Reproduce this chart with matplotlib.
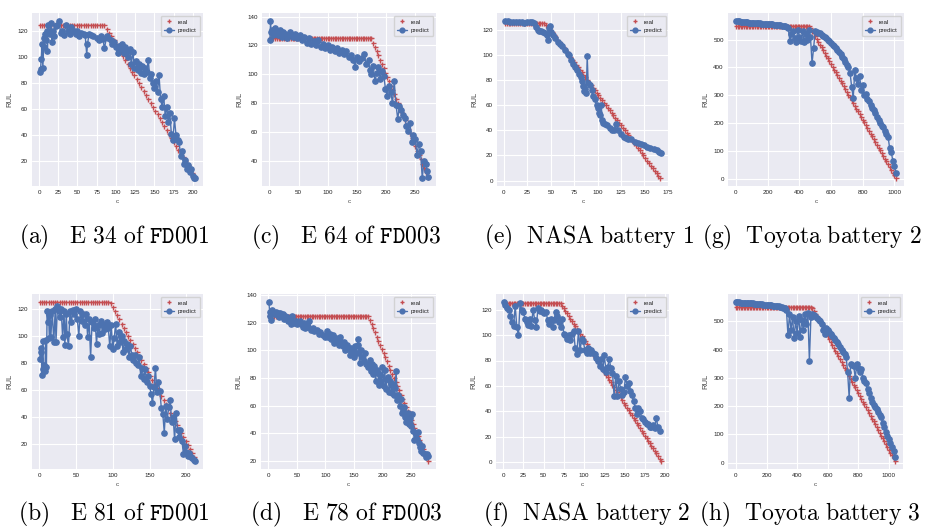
import matplotlib
matplotlib.use('Agg')
import matplotlib.pyplot as plt
from matplotlib.ticker import MultipleLocator

plt.style.use('seaborn-v0_8-darkgrid')
plt.rcParams['font.family'] = ['Liberation Sans', 'DejaVu Sans']
plt.rcParams['mathtext.fontset'] = 'cm'

# ---------------- (a) E 34 of FD001 ----------------
a_cycles = [1, 2, 3, 4, 5, 6, 7, 8, 9, 10, 11, 12, 14, 16, 17, 18, 20, 22, 24, 26, 28, 30, 32,
            35, 38, 40, 42, 45, 48, 50, 52, 55, 58, 60, 62, 63, 65, 68, 70, 75, 78, 80, 83, 85, 88,
            90, 93, 95, 98, 100] + list(range(102, 203, 2)) + [203]
a_pred = [89, 91, 99, 110, 92, 108, 115, 118, 113, 120, 105, 125, 118, 126, 112, 120, 116, 124,
          125, 128, 119, 120, 117, 125, 120, 118, 123, 120, 118, 120, 116, 119, 118, 117, 102, 110,
          118, 117, 116, 115, 113, 116, 114, 107, 116, 115, 113, 110, 112, 108,
          103, 109, 106, 110, 103, 108, 105, 100, 106, 95, 104, 92, 97, 90, 95, 88, 93, 87, 92, 89,
          98, 84, 87, 80, 76, 82, 73, 86, 68, 62, 70, 55, 62, 50, 57, 41, 36, 53, 40, 36,
          35, 24, 28, 18, 21, 14, 17, 12, 14, 9, 7, 7]
a_real_cycles = list(range(1, 204, 3))
a_real = [125] * 29 + [122, 119, 116, 113, 110, 107, 104, 101, 98, 95, 92, 89, 86, 83, 80, 77, 74,
                       71, 68, 65, 62, 59, 56, 53, 50, 47, 44, 41, 38, 35, 32, 29, 26, 23, 20, 17,
                       14, 11, 8]

# ---------------- (c) E 64 of FD003 ----------------
c_cycles = [1, 2, 3, 5, 7, 9, 11, 13, 15, 18, 21, 24, 27, 30, 33, 36] + list(range(40, 137, 4)) + \
           [140, 144, 147, 150, 154, 158, 162, 166, 170, 172] + list(range(175, 269, 3)) + [270, 272]
c_pred = [124, 137, 129, 131, 127, 132, 128, 130, 127, 131, 126, 129, 128, 125, 127, 129,
          126, 128, 125, 127, 124, 126, 122, 125, 121, 123, 120, 124, 119, 121, 118, 120, 117, 119,
          116, 118, 115, 117, 114, 116, 112,
          113, 110, 105, 112, 109, 111, 114, 107, 110, 103,
          100, 106, 95, 101, 105, 97, 102, 99, 90, 85, 92, 88, 80, 95, 79, 69, 78, 75, 72, 70, 64,
          61, 66, 53, 58, 55, 44, 52, 47, 28, 40, 38, 33, 29]
c_real_cycles = list(range(1, 273, 3))
c_real = [125] * 59 + [122, 119, 116, 113, 110, 107, 104, 101, 98, 95, 92, 89, 86, 83, 80, 77, 74,
                       71, 68, 65, 62, 59, 56, 53, 50, 47, 44, 41, 38, 35, 32, 29]

# ---------------- (e) NASA battery 1 ----------------
e_cycles = [1, 4, 7, 10, 13, 16, 19, 22, 25, 28, 30, 32, 34, 36, 38, 40, 42, 44, 46, 47, 48, 49, 50,
            52, 55, 58, 60, 62, 65, 68, 70, 72, 74, 76, 78, 80, 82, 83, 85, 86, 87, 88, 89, 90,
            92, 94, 95, 97, 99, 100, 102, 103, 104, 105, 106, 108, 110,
            113, 116, 118, 120, 122, 125, 128, 130, 133, 136, 140, 143, 146, 150, 153, 156, 160,
            163, 166, 168]
e_pred = [127, 127, 126, 126, 126, 126, 126, 125, 126, 126, 126, 125, 122, 120, 119, 119, 118, 117,
          116, 112, 121, 123, 118,
          116, 113, 110, 109, 107, 104, 101, 100, 96, 93, 90, 88, 85, 82, 79, 75, 71, 73, 70, 99, 78,
          76, 72, 67, 65, 60, 58, 54, 52, 60, 48, 46, 45, 44,
          42, 40, 40, 45, 40, 37, 35, 34, 33, 33, 31, 30, 29, 28, 27, 26, 25, 24, 23, 22]
e_real_cycles = list(range(1, 169, 2))
e_real = [125] * 22 + [124, 122, 120, 118, 116, 114, 112, 110, 108, 106, 104, 102, 100, 98, 96, 94,
                       92, 90, 88, 86, 84, 82, 80, 78, 76, 74, 72, 70, 68, 66, 64, 62, 60, 58, 56,
                       54, 52, 50, 48, 46, 44, 42, 40, 38, 36, 34, 32, 30, 28, 26, 24, 22, 20, 18,
                       16, 14, 12, 10, 8, 6, 4, 2]

# ---------------- (g) Toyota battery 2 ----------------
g_cycles = list(range(0, 1020, 10))
g_pred = [567, 566, 565, 564, 563, 563, 562, 562, 561, 561, 560, 560, 559, 559, 558, 558, 557, 557,
          556, 556, 555, 555, 554, 554, 553, 553, 552, 552, 551, 550, 549, 548, 546,
          540, 495, 520, 530, 505, 490, 535, 510, 495, 530, 490, 520, 500, 535, 510, 415, 470,
          530, 528, 525, 522, 518, 514, 510, 505, 500, 495, 488, 482, 476, 470, 462, 455, 447, 438,
          430, 420, 410, 400,
          380, 330, 290, 390, 360, 340, 370, 320, 335, 300, 305, 285, 280, 265, 255, 245, 235, 220,
          210, 200, 190, 185, 170, 160, 150, 110, 95, 65, 45, 20]
g_real_cycles = list(range(0, 1020, 10))
g_real = [550] * 47 + [542, 532, 522, 512, 502, 492, 482, 472, 462, 452, 442, 432, 422, 412, 402,
                       392, 382, 372, 362, 352, 342, 332, 322, 312, 302, 292, 282, 272, 262, 252,
                       242, 232, 222, 212, 202, 192, 182, 172, 162, 152, 142, 132, 122, 112, 102,
                       92, 82, 72, 62, 52, 42, 32, 22, 12, 2]

# ---------------- (b) E 81 of FD001 ----------------
b_cycles = [1, 2, 3, 4, 5, 6, 7, 8, 9, 10, 11, 12, 13, 14, 15, 16, 18, 20, 22, 23, 25, 27, 28, 30,
            32, 34, 35, 37, 38, 40] + list(range(42, 213, 2))
b_pred = [83, 91, 88, 71, 96, 75, 78, 74, 97, 77, 118, 110, 116, 98, 115, 99,
          118, 95, 120, 95, 122, 118, 114, 120, 99, 118, 93, 116, 101, 92,
          118, 110, 119, 116, 120, 112, 100, 118, 111, 116,
          108, 116, 99, 112, 84, 110, 106, 112, 94, 108,
          101, 111, 102, 108, 105, 110, 106, 92, 108, 90,
          98, 109, 92, 103, 95, 100, 88, 96, 90, 94,
          84, 92, 86, 82, 86, 80, 78, 84, 70, 76,
          68, 75, 66, 70, 63, 57, 50, 62, 76, 58,
          66, 59, 46, 42, 28, 48, 38, 47, 52, 36,
          40, 23, 43, 30, 25, 30, 22, 12, 18, 14,
          11, 13, 10, 9, 8, 7]
b_real_cycles = list(range(1, 214, 3))
b_real = [125] * 32 + [124, 121, 118, 115, 112, 109, 106, 103, 100, 97, 94, 91, 88, 85, 82, 79, 76,
                       73, 70, 67, 64, 61, 58, 55, 52, 49, 46, 43, 40, 37, 34, 31, 28, 25, 22, 19,
                       16, 13, 10]

# ---------------- (d) E 78 of FD003 ----------------
d_cycles = [1, 2, 3] + list(range(5, 36, 2)) + [38, 40, 42, 45, 48, 50, 55, 58, 60, 63, 65, 68, 70,
                                                72, 75, 78, 80, 85, 88, 90, 95, 100, 103, 105, 108,
                                                110, 113, 115, 118, 120, 123, 125, 128, 130, 133,
                                                135, 138, 140, 143, 145, 148, 150, 152, 155, 157,
                                                158, 160, 162, 165, 168, 170, 172, 175, 178, 180] + \
           list(range(182, 281, 2))
d_pred = [135, 128, 125, 122, 129, 127, 126, 128, 126, 127, 124, 127, 125, 126, 123, 125, 124, 124,
          121, 123, 119, 125, 120, 121, 119, 121, 119, 117, 120, 116, 118, 117, 121, 115, 116, 114,
          115, 112, 113, 111, 110, 114, 110, 112, 108, 111, 105, 109, 107, 104, 110, 106, 103, 106,
          100, 104, 101, 97, 102, 99, 95, 103, 98, 108, 104, 91, 100, 95, 92, 98, 90, 88, 93, 85,
          90, 83, 89, 78, 86, 84, 75, 82, 78, 88, 74, 86, 72, 79, 81, 70, 78, 69, 76, 68, 73, 85,
          64, 68, 60, 65, 55, 57, 59, 52, 48, 55, 47, 51, 45, 54, 42, 35, 40, 36, 41, 33, 30, 27,
          31, 26, 25, 23, 25, 24]
d_real_cycles = list(range(1, 281, 3))
d_real = [125] * 59 + [122, 119, 116, 113, 110, 107, 104, 101, 98, 95, 92, 89, 86, 83, 80, 77, 74,
                       71, 68, 65, 62, 59, 56, 53, 50, 47, 44, 41, 38, 35, 32, 29, 26, 23, 20]

# ---------------- (f) NASA battery 2 ----------------
f_cycles = list(range(1, 194, 2))
f_pred = [126, 124, 121, 120, 115, 110, 107, 123, 106, 100,
          125, 120, 118, 113, 110, 108, 113, 107, 120, 112,
          106, 121, 119, 120, 118, 117, 118, 112, 109, 113,
          106, 112, 118, 115, 110, 106, 113, 101, 100, 97,
          100, 96, 101, 103, 90, 85, 103, 88, 97, 95,
          88, 86, 90, 86, 88, 86, 85, 82, 80, 76,
          81, 73, 84, 71, 75, 81, 74, 70, 52, 68,
          52, 64, 58, 53, 55, 67, 60, 62, 56, 53,
          48, 43, 38, 43, 40, 35, 34, 32, 30, 30,
          28, 28, 29, 27, 35, 28, 25]
f_real_cycles = list(range(1, 196, 2))
f_real = [125] * 36 + [123, 121, 119, 117, 115, 113, 111, 109, 107, 105, 103, 101, 99, 97, 95, 93,
                       91, 89, 87, 85, 83, 81, 79, 77, 75, 73, 71, 69, 67, 65, 63, 61, 59, 57, 55,
                       53, 51, 49, 47, 45, 43, 41, 39, 37, 35, 33, 31, 29, 27, 25, 23, 21, 19, 17,
                       15, 13, 11, 9, 7, 5, 3, 1]

# ---------------- (h) Toyota battery 3 ----------------
h_cycles = list(range(0, 1050, 10))
h_pred = [568, 567, 567, 566, 566, 565, 565, 565, 564, 564, 563, 563, 562, 562, 561, 561, 560, 560,
          559, 559, 558, 557, 557, 556, 555, 555, 554, 553, 552, 551, 550, 548, 546,
          540, 450, 525, 470, 515, 440, 500, 460, 520, 445, 505, 470, 525, 490, 530, 360, 515,
          525, 522, 518, 512, 505, 500, 490, 470, 455, 475, 468, 462, 455, 448, 440, 435, 428, 420,
          410, 400, 390, 385, 375,
          320, 230, 350, 345, 340, 300, 350, 335, 320, 330, 300, 290, 280, 260, 245, 230, 215, 205,
          198, 190, 180, 170, 160, 140, 125, 110, 95, 85, 70, 55, 40, 20]
h_real_cycles = list(range(0, 1050, 10))
h_real = [550] * 50 + [546, 536, 526, 516, 506, 496, 486, 476, 466, 456, 446, 436, 426, 416, 406,
                       396, 386, 376, 366, 356, 346, 336, 326, 316, 306, 296, 286, 276, 266, 256,
                       246, 236, 226, 216, 206, 196, 186, 176, 166, 156, 146, 136, 126, 116, 106,
                       96, 86, 76, 66, 56, 46, 36, 26, 16, 6]

captions = {
    'a': r'$\mathrm{(a)\ \ \ E\ 34\ of\ }\mathtt{FD001}$',
    'c': r'$\mathrm{(c)\ \ \ E\ 64\ of\ }\mathtt{FD003}$',
    'e': r'$\mathrm{(e)\ \ NASA\ battery\ 1}$',
    'g': r'$\mathrm{(g)\ \ Toyota\ battery\ 2}$',
    'b': r'$\mathrm{(b)\ \ \ E\ 81\ of\ }\mathtt{FD001}$',
    'd': r'$\mathrm{(d)\ \ \ E\ 78\ of\ }\mathtt{FD003}$',
    'f': r'$\mathrm{(f)\ \ NASA\ battery\ 2}$',
    'h': r'$\mathrm{(h)\ \ Toyota\ battery\ 3}$',
}

W, H = 928, 529
fig = plt.figure(figsize=(W / 100, H / 100), dpi=100)

# key, data, x tick step, y tick step, axes box in px (left, top, right, bottom), caption centre px
panels = [
    ('a', a_cycles, a_pred, a_real_cycles, a_real, 25, 20, (32, 13, 203, 186), (114, 237)),
    ('c', c_cycles, c_pred, c_real_cycles, c_real, 50, 20, (262, 13, 436, 186), (346, 237)),
    ('e', e_cycles, e_pred, e_real_cycles, e_real, 25, 20, (497, 13, 669, 186), (589, 237)),
    ('g', g_cycles, g_pred, g_real_cycles, g_real, 200, 100, (728, 13, 904, 186), (812, 237)),
    ('b', b_cycles, b_pred, b_real_cycles, b_real, 50, 20, (32, 294, 203, 469), (114, 514)),
    ('d', d_cycles, d_pred, d_real_cycles, d_real, 50, 20, (261, 294, 436, 469), (346, 514)),
    ('f', f_cycles, f_pred, f_real_cycles, f_real, 25, 20, (496, 294, 669, 469), (587, 514)),
    ('h', h_cycles, h_pred, h_real_cycles, h_real, 200, 100, (728, 294, 903, 469), (810, 514)),
]

red = '#C44E52'
blue = '#4C72B0'

for key, cx, pred, rx, real, xs, ys, box, cap in panels:
    l, t, r, b = box
    ax = fig.add_axes([l / W, 1 - b / H, (r - l) / W, (b - t) / H])
    ax.plot(rx, real, '+', color=red, markersize=3.6, markeredgewidth=1.0, label='real')
    ax.plot(cx, pred, 'o-', color=blue, markersize=3.8, linewidth=1.0, label='predict')
    ax.xaxis.set_major_locator(MultipleLocator(xs))
    ax.yaxis.set_major_locator(MultipleLocator(ys))
    ax.tick_params(labelsize=4.5, pad=3, colors='#222222')
    ax.grid(color='white', linewidth=0.8)
    ax.set_ylabel('RUL', fontsize=5.5, labelpad=3, color='#444444')
    ax.set_xlabel('c', fontsize=4.5, labelpad=3, color='#444444')
    ax.legend(loc='upper right', fontsize=4.5, frameon=True, markerscale=0.9,
              handlelength=1.6, borderpad=0.5, labelspacing=0.5, handletextpad=0.6)
    fig.text(cap[0] / W, 1 - cap[1] / H, captions[key], fontsize=17,
             ha='center', va='center', color='black')

fig.savefig('out.png', dpi=100)
